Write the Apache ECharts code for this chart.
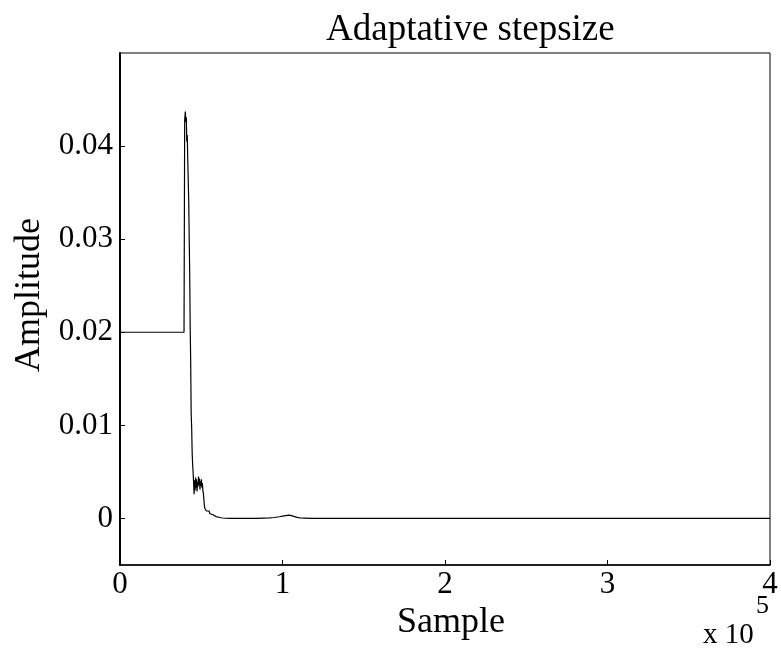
<!DOCTYPE html>
<html>
<head>
<meta charset="utf-8">
<script src="https://cdn.jsdelivr.net/npm/echarts@6/dist/echarts.min.js"></script>
<style>html,body{margin:0;padding:0;background:#fff}#c{width:781px;height:650px}</style>
</head>
<body>
<div id="c"></div>
<script>
const chartTitle = 'Adaptative stepsize';
const xTicks = [0, 100000, 200000, 300000, 400000];
const yTicks = [0, 0.01, 0.02, 0.03, 0.04];
const sampleIndex = [0, 39400, 39800, 40200, 40500, 40800, 41100, 41400, 41700, 42000, 42300, 42600, 42900, 43200, 43500, 43800, 44100, 44400, 44700, 45000, 45300, 45600, 45900, 46200, 46500, 46800, 47100, 47400, 47700, 48000, 48300, 48600, 48900, 49200, 49500, 49800, 50100, 50400, 50700, 51000, 51300, 51600, 51900, 52200, 52500, 52800, 53200, 53700, 54200, 54800, 55400, 56000, 56600, 57300, 58000, 59000, 60000, 61500, 63000, 65000, 68000, 72000, 76000, 80000, 84000, 88000, 92000, 95000, 98000, 100000, 102000, 104000, 105500, 107000, 109000, 111000, 114000, 118000, 125000, 400000];
const amplitude = [0.02, 0.02, 0.0428, 0.0437, 0.0426, 0.0431, 0.0405, 0.0412, 0.0385, 0.0362, 0.0341, 0.0300, 0.0262, 0.0205, 0.0168, 0.0112, 0.0098, 0.0071, 0.0058, 0.0049, 0.0038, 0.0026, 0.0041, 0.0030, 0.0044, 0.0033, 0.0042, 0.0029, 0.0039, 0.0034, 0.0045, 0.0036, 0.0043, 0.0031, 0.0040, 0.0035, 0.0042, 0.0033, 0.0038, 0.0030, 0.0027, 0.0021, 0.0014, 0.0011, 0.0009, 0.0010, 0.0008, 0.0009, 0.0007, 0.0008, 0.0005, 0.0006, 0.0004, 0.0004, 0.0003, 0.0002, 0.00015, 0.0001, 0.00005, 0.00002, 0.0, 0.00002, 0.0, 0.00002, 0.0, 0.00003, 0.00006, 0.0001, 0.00018, 0.00025, 0.0003, 0.00035, 0.0003, 0.00022, 0.00012, 0.00005, 0.00003, 0.0, 0.00002, 0.0];

const font = 'Liberation Serif';
const chart = echarts.init(document.getElementById('c'), null, {renderer: 'canvas'});
const seriesData = sampleIndex.map((s, i) => [s, amplitude[i]]);

chart.setOption({
  backgroundColor: '#fff',
  animation: false,
  title: {
    text: chartTitle,
    left: 321, top: 7,
    textStyle: {fontFamily: font, fontSize: 37, fontWeight: 'normal', color: '#000'}
  },
  grid: {left: 120, right: 11, top: 53, bottom: 85, show: true, borderColor: '#000', borderWidth: 1, backgroundColor: 'transparent'},
  xAxis: {
    type: 'value', min: 0, max: 400000, interval: 100000,
    name: 'Sample', nameLocation: 'middle', nameGap: 30,
    nameTextStyle: {fontFamily: font, fontSize: 36, color: '#000', padding: [0, 0, 0, 12]},
    axisLine: {show: true, onZero: false, lineStyle: {color: '#000', width: 1.5}},
    axisTick: {show: true, inside: true, length: 5, lineStyle: {color: '#000'}},
    axisLabel: {fontFamily: font, fontSize: 31, color: '#000', margin: 4, formatter: v => String(v / 100000)},
    splitLine: {show: false}
  },
  yAxis: {
    type: 'value', min: -0.005, max: 0.05,
    axisLine: {show: true, onZero: false, lineStyle: {color: '#000', width: 2}},
    axisTick: {show: true, inside: true, length: 5, customValues: yTicks, lineStyle: {color: '#000'}},
    axisLabel: {fontFamily: font, fontSize: 31, color: '#000', margin: 7, padding: [0, 0, 6, 0], customValues: yTicks, formatter: v => v === 0 ? '0' : v.toFixed(2)},
    splitLine: {show: false}
  },
  graphic: [
    {type: 'text', x: 30, y: 295, rotation: Math.PI / 2, style: {text: 'Amplitude', font: '36px "Liberation Serif"', fill: '#000', align: 'center', verticalAlign: 'middle'}},
    {type: 'text', x: 703, y: 650, style: {text: 'x 10', font: '29px "Liberation Serif"', fill: '#000', align: 'left', verticalAlign: 'bottom'}},
    {type: 'text', x: 756, y: 619, style: {text: '5', font: '26px "Liberation Serif"', fill: '#000', align: 'left', verticalAlign: 'bottom'}}
  ],
  series: [{
    type: 'line', data: seriesData, showSymbol: false, symbol: 'none',
    lineStyle: {color: '#000', width: 1.2}
  }]
});
</script>
</body>
</html>
